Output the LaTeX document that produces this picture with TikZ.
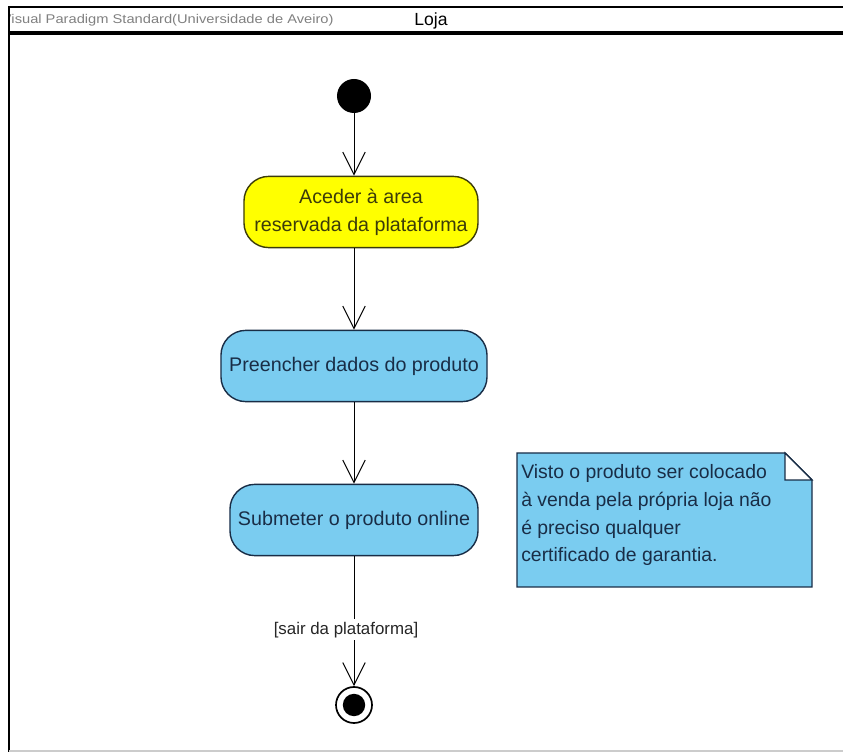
\documentclass[tikz,border=0pt]{standalone}
\usepackage{fontspec}
\setmainfont{Liberation Sans}
\usetikzlibrary{arrows.meta, positioning, calc}

\definecolor{actblue}{RGB}{122,204,240}
\definecolor{actyellow}{RGB}{255,255,0}
\definecolor{navytext}{RGB}{25,45,70}
\definecolor{olivetext}{RGB}{60,60,10}

\tikzset{
	action/.style={draw=navytext, line width=1pt, rounded corners=0.62cm, fill=actblue, text=navytext, minimum height=1.78cm, align=center, font=\fontsize{14}{19.8}\selectfont},
	flow/.style={-{Straight Barb[length=16pt,width=16pt]}, line width=0.7pt},
	guard/.style={fill=white, inner sep=2pt, text=black!85, font=\fontsize{12}{14}\selectfont},
}

\begin{document}
\begin{tikzpicture}[x=0.025cm, y=-0.025cm]
	\useasboundingbox (0,0) rectangle (843,753);
	\draw[line width=2pt] (9,752) -- (9,7) -- (843,7);
	\draw[line width=2.2pt] (9,33) -- (843,33);
	\draw[gray!40, line width=1pt] (9,751) -- (843,751);
	\begin{scope}
		\clip (10,8) rectangle (843,32);
		\node (VP) [anchor=west, text=gray, font=\fontsize{9}{10}\selectfont] at (-3,20) {\scalebox{1.16}[1]{Visual Paradigm Standard(Universidade de Aveiro)}};
	\end{scope}
	\node (Loja) at (431,21) {\fontsize{12.5}{14}\selectfont Loja};

	\node (start) at (354,96) [circle, fill=black, minimum size=0.85cm] {};
	\node (aceder) at (361,212) [action, fill=actyellow, text=olivetext, draw=olivetext, minimum width=5.85cm] {Aceder à area\\reservada da plataforma};
	\node (preencher) at (354,366) [action, minimum width=6.65cm] {Preencher dados do produto};
	\node (submeter) at (354,520) [action, minimum width=6.2cm] {Submeter o produto online};
	\node (end) at (354,705) [circle, draw, line width=1.2pt, fill=white, minimum size=0.9cm] {};
	\node (endDot) at (end) [circle, fill=black, minimum size=0.56cm] {};

	\draw[flow] (start) -- (start |- aceder.north);
	\draw[flow] (aceder.south -| preencher) -- (preencher);
	\draw[flow] (preencher) -- (submeter);
	\draw[flow] (submeter) -- node[guard, pos=0.565, xshift=-0.2cm] (sair) {[sair da plataforma]} (end);

	\filldraw[fill=actblue, draw=navytext, line width=1pt] (517,453) -- (785,453) -- (812,480) -- (812,587) -- (517,587) -- cycle;
	\filldraw[fill=white, draw=navytext, line width=0.8pt] (785,453) -- (785,480) -- (812,480) -- cycle;
	\node (nota) [anchor=north west, align=left, inner sep=0pt, text=navytext, font=\fontsize{13.8}{19.8}\selectfont] at (521,464) {Visto o produto ser colocado\\à venda pela própria loja não\\é preciso qualquer\\certificado de garantia.};
\end{tikzpicture}
\end{document}
